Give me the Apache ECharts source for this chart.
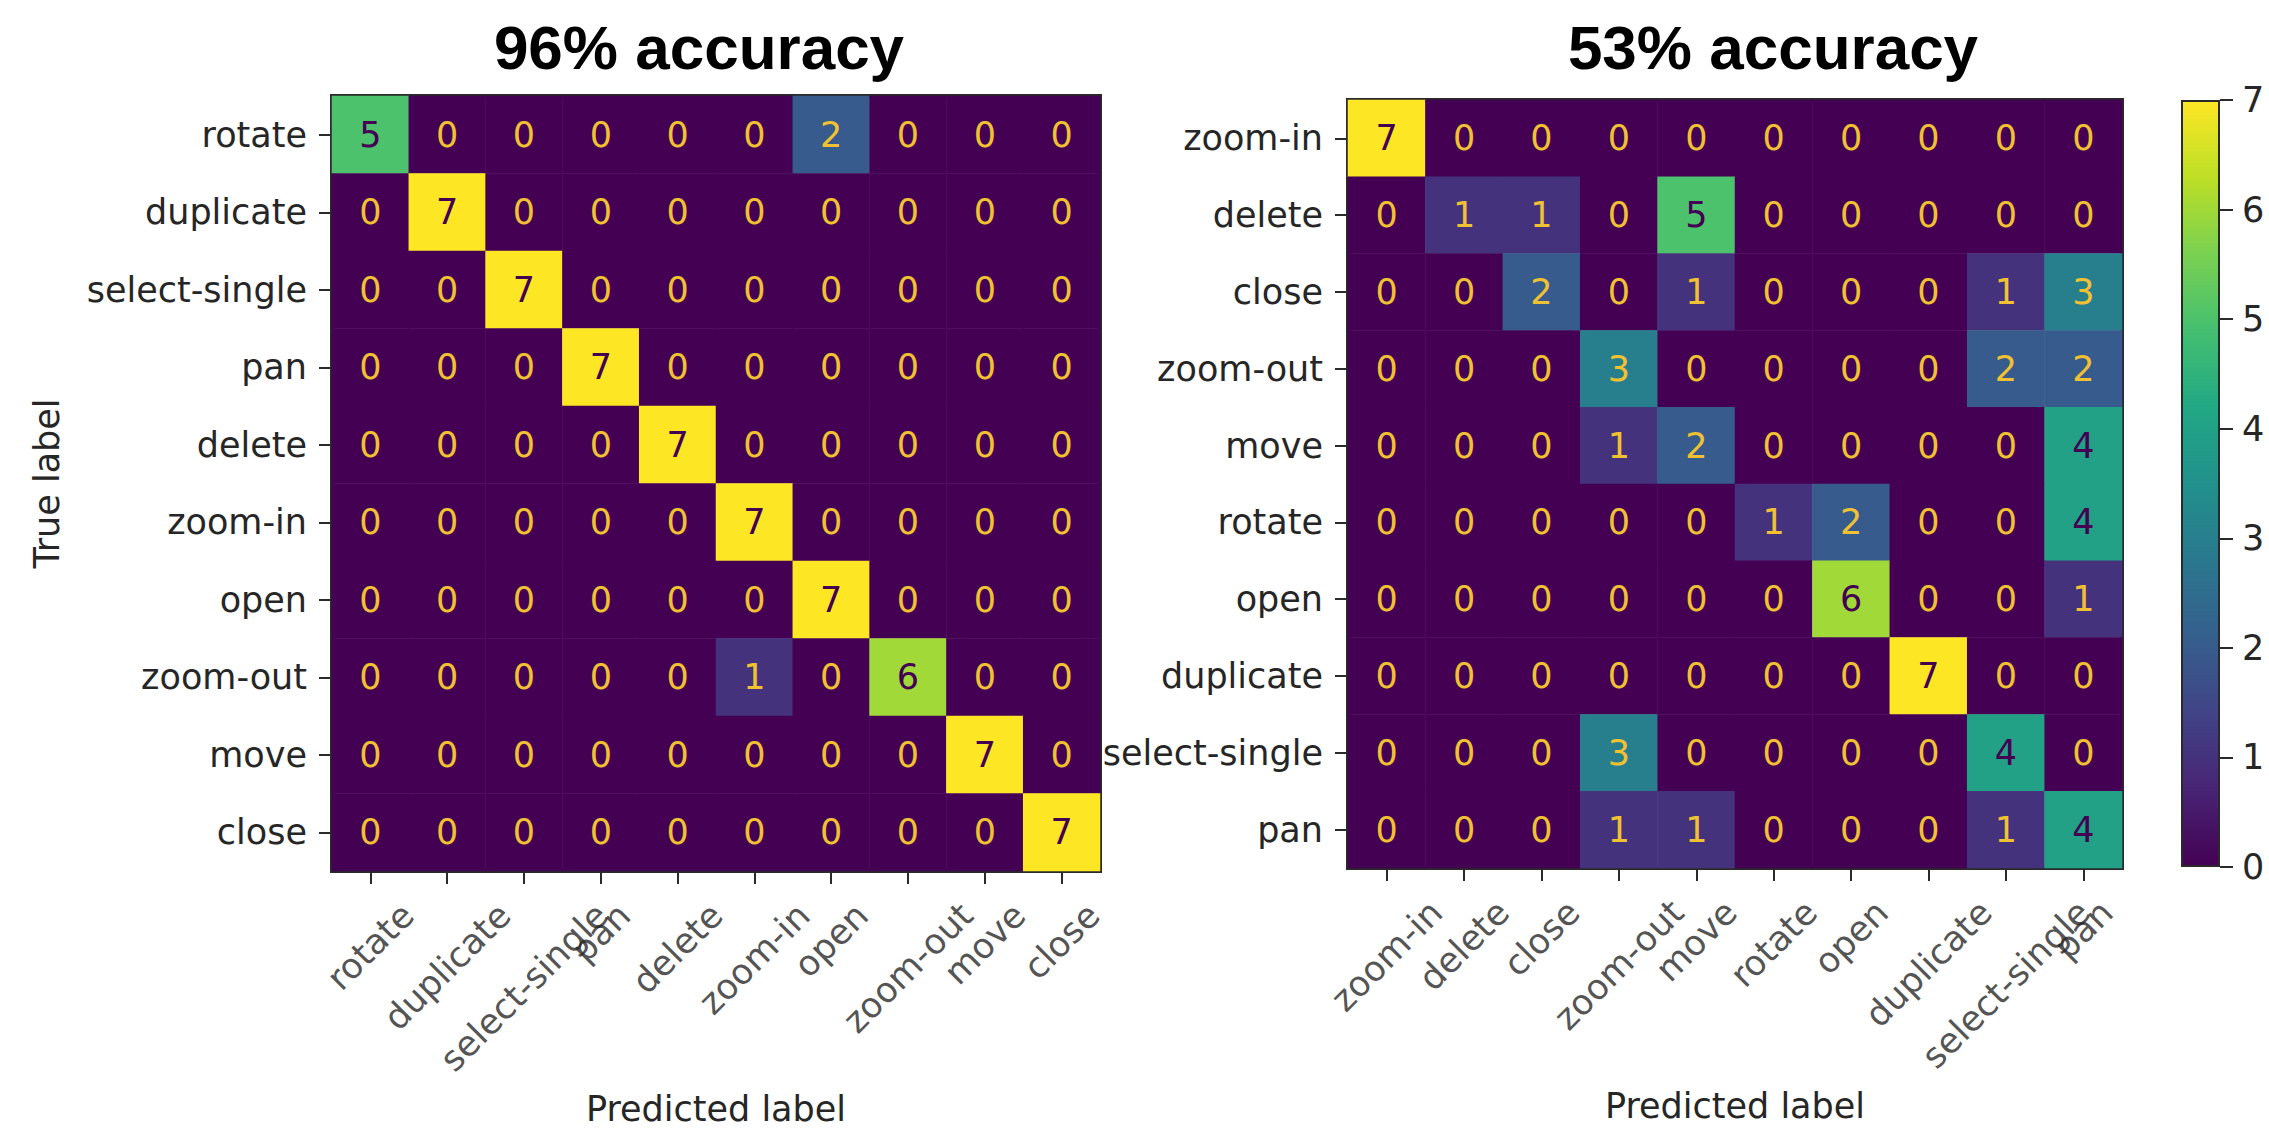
<!DOCTYPE html>
<html>
<head>
<meta charset="utf-8">
<script src="https://cdn.jsdelivr.net/npm/echarts@6/dist/echarts.min.js"></script>
<style>
  html, body { margin: 0; padding: 0; background: #fff; }
  #cm_chart { width: 2269px; height: 1128px; }
</style>
</head>
<body>
<div id="cm_chart"></div>
<script>
// 왼쪽 혼동행렬 (96%)
var leftTitle = '96% accuracy';
var leftLabels = ['rotate', 'duplicate', 'select-single', 'pan', 'delete', 'zoom-in', 'open', 'zoom-out', 'move', 'close'];
var leftMatrix = [
  [5, 0, 0, 0, 0, 0, 2, 0, 0, 0],
  [0, 7, 0, 0, 0, 0, 0, 0, 0, 0],
  [0, 0, 7, 0, 0, 0, 0, 0, 0, 0],
  [0, 0, 0, 7, 0, 0, 0, 0, 0, 0],
  [0, 0, 0, 0, 7, 0, 0, 0, 0, 0],
  [0, 0, 0, 0, 0, 7, 0, 0, 0, 0],
  [0, 0, 0, 0, 0, 0, 7, 0, 0, 0],
  [0, 0, 0, 0, 0, 1, 0, 6, 0, 0],
  [0, 0, 0, 0, 0, 0, 0, 0, 7, 0],
  [0, 0, 0, 0, 0, 0, 0, 0, 0, 7]
];

// 오른쪽 혼동행렬 (53%)
var rightTitle = '53% accuracy';
var rightLabels = ['zoom-in', 'delete', 'close', 'zoom-out', 'move', 'rotate', 'open', 'duplicate', 'select-single', 'pan'];
var rightMatrix = [
  [7, 0, 0, 0, 0, 0, 0, 0, 0, 0],
  [0, 1, 1, 0, 5, 0, 0, 0, 0, 0],
  [0, 0, 2, 0, 1, 0, 0, 0, 1, 3],
  [0, 0, 0, 3, 0, 0, 0, 0, 2, 2],
  [0, 0, 0, 1, 2, 0, 0, 0, 0, 4],
  [0, 0, 0, 0, 0, 1, 2, 0, 0, 4],
  [0, 0, 0, 0, 0, 0, 6, 0, 0, 1],
  [0, 0, 0, 0, 0, 0, 0, 7, 0, 0],
  [0, 0, 0, 3, 0, 0, 0, 0, 4, 0],
  [0, 0, 0, 1, 1, 0, 0, 0, 1, 4]
];

var xAxisName = 'Predicted label';
var yAxisName = 'True label';

var viridis = ['#440154', '#482475', '#414487', '#355f8d', '#2a788e', '#21918c', '#22a884', '#44bf70', '#7ad151', '#bddf26', '#fde725'];

var tickFont = 'DejaVu Sans';
var tickSize = 35;
var txtColor = '#262626';
var lineColor = '#2a2a2a';

var gridL = { left: 332, top: 96, width: 768, height: 775 };
var gridR = { left: 1348, top: 100, width: 774, height: 768 };

var allValues = leftMatrix.concat(rightMatrix).reduce(function (a, r) { return a.concat(r); }, []);
var vmin = Math.min.apply(null, allValues);
var vmax = Math.max.apply(null, allValues);
var thresh = (vmin + vmax) / 2;

function toCells(matrix) {
  var cells = [];
  matrix.forEach(function (row, i) {
    row.forEach(function (v, j) {
      cells.push({ value: [j, i, v], label: { color: v < thresh ? '#f0c232' : '#440154' } });
    });
  });
  return cells;
}

// x 라벨: matplotlib 처럼 45도 회전 후 가운데 정렬 -> 맨 아래 행에 붙인 라벨로 그림
// (label offset 은 회전된 좌표계 기준이라 -45도로 되돌려서 넣음)
var measureCtx = document.createElement('canvas').getContext('2d');
measureCtx.font = tickSize + 'px "' + tickFont + '"';
var lineH = tickSize * 1.15;
var tickPad = 24;
function xLabelSeries(idx, labels, g) {
  var last = labels[labels.length - 1];
  var halfCell = g.height / labels.length / 2;
  return {
    type: 'scatter', xAxisIndex: idx, yAxisIndex: idx,
    silent: true, clip: false, symbolSize: 0, z: 10,
    data: labels.map(function (name) {
      var w = measureCtx.measureText(name).width;
      var dy = halfCell + tickPad + (w + lineH) / (2 * Math.SQRT2);
      return { name: name, value: [name, last], label: { offset: [-dy / Math.SQRT2, dy / Math.SQRT2] } };
    }),
    label: {
      show: true, position: 'inside', rotate: 45, align: 'center', verticalAlign: 'middle',
      formatter: function (p) { return p.name; },
      fontFamily: tickFont, fontSize: tickSize, color: txtColor
    }
  };
}

function xAxisFor(idx, labels) {
  return {
    type: 'category',
    gridIndex: idx,
    data: labels,
    axisLine: { show: false },
    axisTick: { show: true, alignWithLabel: true, length: 13, lineStyle: { color: lineColor, width: 2 } },
    axisLabel: { show: false, interval: 0 },
    name: xAxisName,
    nameLocation: 'middle',
    nameGap: 220,
    nameMoveOverlap: false,
    nameTextStyle: { fontFamily: tickFont, fontSize: tickSize, color: txtColor },
    splitLine: { show: false }
  };
}

function yAxisFor(idx, labels, name) {
  return {
    type: 'category',
    gridIndex: idx,
    inverse: true,
    data: labels,
    axisLine: { show: false },
    axisTick: { show: true, alignWithLabel: true, length: 13, lineStyle: { color: lineColor, width: 2 } },
    axisLabel: { interval: 0, margin: 25, fontFamily: tickFont, fontSize: tickSize, color: txtColor },
    name: name,
    nameLocation: 'middle',
    nameRotate: 90,
    nameGap: 268,
    nameMoveOverlap: false,
    nameTextStyle: { fontFamily: tickFont, fontSize: tickSize, color: txtColor },
    splitLine: { show: false }
  };
}

var dom = document.getElementById('cm_chart');
var myChart = echarts.init(dom, null, { renderer: 'svg', useDirtyRect: false });

var titleStyle = { fontFamily: 'Liberation Sans', fontWeight: 'bold', fontSize: 62, color: '#000' };
var gridStyle = { show: true, borderColor: lineColor, borderWidth: 4, backgroundColor: 'transparent', outerBoundsMode: 'none' };

var option = {
  backgroundColor: '#fff',
  animation: false,
  title: [
    { text: leftTitle, left: 699, top: 16, textAlign: 'center', padding: 0, textStyle: titleStyle },
    { text: rightTitle, left: 1773, top: 16, textAlign: 'center', padding: 0, textStyle: titleStyle }
  ],
  grid: [
    Object.assign({}, gridL, gridStyle),
    Object.assign({}, gridR, gridStyle),
    { left: 2181, top: 100, width: 39, height: 767, show: false, outerBoundsMode: 'none' }
  ],
  xAxis: [
    xAxisFor(0, leftLabels),
    xAxisFor(1, rightLabels),
    { type: 'category', gridIndex: 2, data: [''], show: false }
  ],
  yAxis: [
    yAxisFor(0, leftLabels, yAxisName),
    yAxisFor(1, rightLabels, ''),
    {
      type: 'value', gridIndex: 2, position: 'right', min: vmin, max: vmax, interval: 1,
      axisLine: { show: false },
      axisTick: { show: true, length: 13, lineStyle: { color: lineColor, width: 2 } },
      axisLabel: { margin: 22, fontFamily: tickFont, fontSize: tickSize, color: txtColor },
      splitLine: { show: false }
    }
  ],
  visualMap: {
    type: 'continuous',
    show: false,
    min: vmin,
    max: vmax,
    seriesIndex: [0, 1],
    inRange: { color: viridis }
  },
  series: [
    {
      type: 'heatmap', xAxisIndex: 0, yAxisIndex: 0,
      data: toCells(leftMatrix),
      label: { show: true, fontFamily: tickFont, fontSize: tickSize },
      itemStyle: { borderWidth: 0 }
    },
    {
      type: 'heatmap', xAxisIndex: 1, yAxisIndex: 1,
      data: toCells(rightMatrix),
      label: { show: true, fontFamily: tickFont, fontSize: tickSize },
      itemStyle: { borderWidth: 0 }
    },
    {
      // 컬러바
      type: 'bar', xAxisIndex: 2, yAxisIndex: 2,
      data: [vmax],
      barWidth: '100%',
      itemStyle: {
        color: new echarts.graphic.LinearGradient(0, 1, 0, 0, viridis.map(function (c, i) {
          return { offset: i / (viridis.length - 1), color: c };
        })),
        borderColor: lineColor,
        borderWidth: 2
      }
    },
    xLabelSeries(0, leftLabels, gridL),
    xLabelSeries(1, rightLabels, gridR)
  ]
};

if (option && typeof option === 'object') {
  myChart.setOption(option);
}

window.addEventListener('resize', myChart.resize);
</script>
</body>
</html>
